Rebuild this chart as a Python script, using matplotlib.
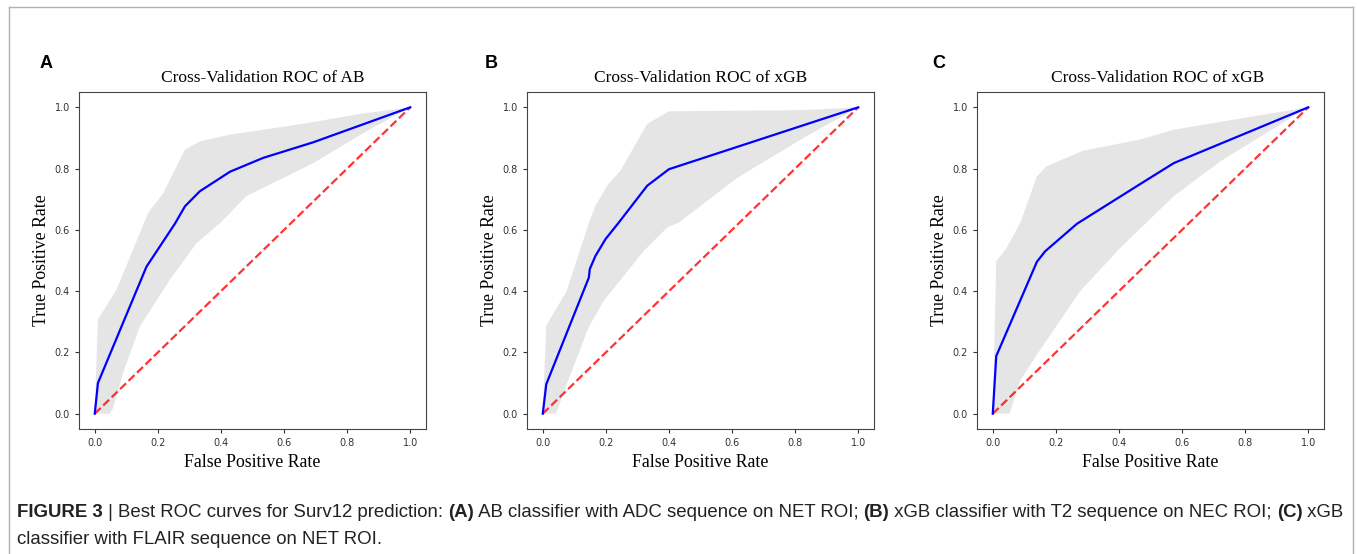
import numpy as np
import matplotlib
matplotlib.use("Agg")
import matplotlib.pyplot as plt
from matplotlib.lines import Line2D

# ---- data ----
titles = ["Cross-Validation ROC of AB", "Cross-Validation ROC of xGB", "Cross-Validation ROC of xGB"]
letters = ["A", "B", "C"]

mean_fpr_a = [0, 0.01, 0.164, 0.254, 0.286, 0.333, 0.429, 0.534, 0.693, 1.0]
mean_tpr_a = [0, 0.10, 0.48, 0.62, 0.677, 0.726, 0.79, 0.835, 0.886, 1.0]
up_fpr_a = [0, 0.01, 0.069, 0.169, 0.217, 0.286, 0.333, 0.429, 0.64, 0.852, 1.0]
up_tpr_a = [0, 0.307, 0.405, 0.655, 0.72, 0.862, 0.889, 0.911, 0.943, 0.98, 1.0]
lo_fpr_a = [0, 0.048, 0.058, 0.09, 0.143, 0.238, 0.323, 0.397, 0.429, 0.48, 0.587, 0.693, 0.852, 1.0]
lo_tpr_a = [0, 0, 0.018, 0.133, 0.285, 0.437, 0.557, 0.622, 0.655, 0.71, 0.764, 0.818, 0.916, 1.0]

mean_fpr_b = [0, 0.011, 0.146, 0.149, 0.167, 0.199, 0.241, 0.331, 0.4, 1.0]
mean_tpr_b = [0, 0.096, 0.444, 0.472, 0.515, 0.57, 0.624, 0.744, 0.798, 1.0]
up_fpr_b = [0, 0.011, 0.076, 0.145, 0.167, 0.204, 0.246, 0.331, 0.4, 0.83, 1.0]
up_tpr_b = [0, 0.287, 0.401, 0.619, 0.679, 0.744, 0.793, 0.946, 0.987, 0.991, 1.0]
lo_fpr_b = [0, 0.042, 0.076, 0.145, 0.193, 0.321, 0.395, 0.432, 0.618, 0.83, 1.0]
lo_tpr_b = [0, 0, 0.096, 0.281, 0.368, 0.532, 0.608, 0.624, 0.771, 0.902, 1.0]

mean_fpr_c = [0, 0.011, 0.14, 0.166, 0.267, 0.468, 0.574, 1.0]
mean_tpr_c = [0, 0.188, 0.496, 0.53, 0.62, 0.75, 0.818, 1.0]
up_fpr_c = [0, 0.011, 0.044, 0.087, 0.14, 0.171, 0.288, 0.468, 0.574, 0.828, 1.0]
up_tpr_c = [0, 0.498, 0.541, 0.623, 0.775, 0.808, 0.859, 0.895, 0.927, 0.971, 1.0]
lo_fpr_c = [0, 0.053, 0.087, 0.14, 0.277, 0.404, 0.574, 0.722, 1.0]
lo_tpr_c = [0, 0, 0.107, 0.193, 0.4, 0.541, 0.71, 0.824, 1.0]

panels = [
    (mean_fpr_a, mean_tpr_a, up_fpr_a, up_tpr_a, lo_fpr_a, lo_tpr_a),
    (mean_fpr_b, mean_tpr_b, up_fpr_b, up_tpr_b, lo_fpr_b, lo_tpr_b),
    (mean_fpr_c, mean_tpr_c, up_fpr_c, up_tpr_c, lo_fpr_c, lo_tpr_c),
]

W, H = 1357, 554
fig = plt.figure(figsize=(W / 100, H / 100), dpi=100)

lefts = [79, 527, 977]
letter_x = [40, 485, 932]
title_x = [0.53, 0.5, 0.52]
serif = "Liberation Serif"

for i, (mf, mt, uf, ut, lf, lt) in enumerate(panels):
    ax = fig.add_axes([lefts[i] / W, (H - 429) / H, 347 / W, 337 / H])
    px = np.concatenate([uf, lf[::-1]])
    py = np.concatenate([ut, lt[::-1]])
    ax.fill(px, py, color="grey", alpha=0.2, lw=0)
    ax.plot([0, 1], [0, 1], linestyle="--", color="r", lw=1.6, alpha=0.8)
    ax.plot(mf, mt, color="b", lw=1.6)
    ax.set_xlim(-0.05, 1.05)
    ax.set_ylim(-0.05, 1.05)
    ax.set_xticks([0, 0.2, 0.4, 0.6, 0.8, 1.0])
    ax.set_yticks([0, 0.2, 0.4, 0.6, 0.8, 1.0])
    ax.tick_params(labelsize=7, labelcolor="#333333", length=3, color="#333333")
    for s in ax.spines.values():
        s.set_color("#444444")
    ax.set_title(titles[i], family=serif, fontsize=12.5, pad=7, x=title_x[i])
    ax.set_xlabel("False Positive Rate", family=serif, fontsize=12.8, labelpad=4)
    ax.set_ylabel("True Positive Rate", family=serif, fontsize=12.8, labelpad=3)
    fig.text(letter_x[i] / W, (H - 64) / H, letters[i], fontsize=13,
             fontweight="bold", family="Liberation Sans", va="center", ha="left")

# frame around the figure (open at the bottom)
fc = "#b0b0b0"
fig.add_artist(Line2D([9 / W, 9 / W], [0, 1 - 7 / H], color=fc, lw=1))
fig.add_artist(Line2D([9 / W, 1353 / W], [1 - 7 / H, 1 - 7 / H], color=fc, lw=1))
fig.add_artist(Line2D([1353 / W, 1353 / W], [0, 1 - 7 / H], color=fc, lw=1))

# caption drawn piece by piece (bold / normal)
line1 = [("FIGURE 3", True), (" | Best ROC curves for Surv12 prediction: ", False), ("(A)", True),
         (" AB classifier with ADC sequence on NET ROI; ", False), ("(B)", True),
         (" xGB classifier with T2 sequence on NEC ROI; ", False), ("(C)", True), (" xGB", False)]
line2 = [("classifier with FLAIR sequence on NET ROI.", False)]

fig.canvas.draw()
renderer = fig.canvas.get_renderer()
for pieces, ybase in [(line1, 517), (line2, 544)]:
    x = 17
    for txt, bold in pieces:
        t = fig.text(x / W, (H - ybase) / H, txt, fontsize=13.4, family="Liberation Sans",
                     fontweight="bold" if bold else "normal", color="#222222", va="baseline")
        bb = t.get_window_extent(renderer)
        x += bb.width

fig.savefig("out.png", dpi=100)
